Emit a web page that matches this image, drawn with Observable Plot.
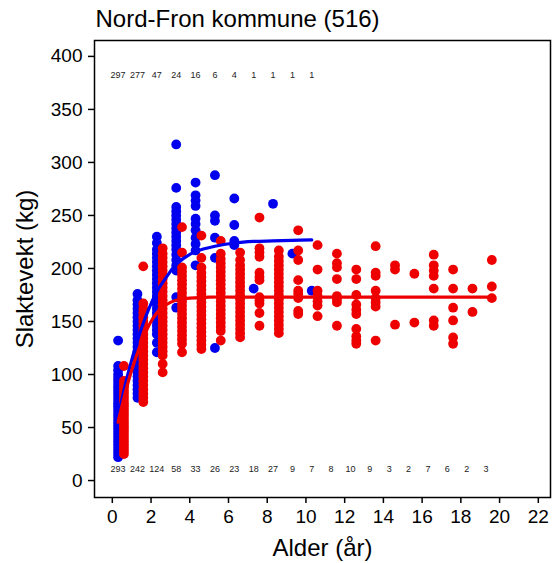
<!DOCTYPE html>
<html>
<head>
<meta charset="utf-8">
<script src="https://cdn.jsdelivr.net/npm/d3@7"></script>
<script src="https://cdn.jsdelivr.net/npm/@observablehq/plot@0.6"></script>
<style>
  html, body { margin: 0; padding: 0; background: #fff; }
</style>
</head>
<body>
<div id="chart"></div>
<script>
const title = "Nord-Fron kommune (516)";
const xLabel = "Alder (år)";
const yLabel = "Slaktevekt (kg)";
const xTicks = [0, 2, 4, 6, 8, 10, 12, 14, 16, 18, 20, 22];
const yTicks = [0, 50, 100, 150, 200, 250, 300, 350, 400];

// Males (blue): column ages and weights
const maleAges = [0.3, 1.3, 2.3, 3.3, 4.3, 5.3, 6.3, 7.3, 8.3, 9.3, 10.3];
const maleWeights = [
  [22, 25, 28, 31, 34, 37, 40, 43, 46, 49, 52, 55, 58, 61, 64, 67, 70, 73, 76, 79, 82, 85, 88, 91, 94, 97, 100, 104, 108, 132],
  [78, 82, 86, 90, 94, 98, 102, 106, 110, 114, 118, 122, 126, 130, 134, 138, 142, 146, 150, 154, 158, 162, 166, 170, 176],
  [121, 130, 138, 142, 146, 150, 154, 158, 162, 166, 170, 174, 178, 182, 186, 190, 194, 198, 202, 206, 210, 214, 218, 224, 230],
  [163, 173, 198, 203, 208, 213, 218, 222, 226, 230, 234, 238, 242, 246, 250, 254, 258, 276, 317],
  [203, 217, 223, 229, 236, 242, 247, 259, 264, 269, 281],
  [125, 210, 229, 245, 250, 288],
  [222, 226, 241, 266],
  [181],
  [261],
  [214],
  [179]
];
const maleCounts = [297, 277, 47, 24, 16, 6, 4, 1, 1, 1, 1];

// Females (red)
const femaleAges = [0.6, 1.6, 2.6, 3.6, 4.6, 5.6, 6.6, 7.6, 8.6, 9.6, 10.6, 11.6, 12.6, 13.6, 14.6, 15.6, 16.6, 17.6, 18.6, 19.6];
const femaleWeights = [
  [25, 28, 31, 34, 37, 40, 43, 46, 49, 52, 55, 58, 61, 64, 67, 70, 73, 76, 79, 82, 85, 88, 91, 94, 108],
  [74, 78, 82, 86, 90, 94, 98, 102, 106, 110, 114, 118, 122, 126, 130, 134, 138, 142, 146, 150, 154, 158, 162, 167, 202],
  [102, 110, 118, 122, 126, 130, 134, 138, 142, 146, 150, 154, 158, 162, 166, 170, 174, 178, 182, 186, 190, 194, 198, 202, 206, 210, 214, 219],
  [121, 129, 133, 137, 141, 145, 149, 153, 157, 161, 165, 169, 173, 177, 181, 185, 189, 193, 197, 201, 215, 239],
  [124, 128, 132, 136, 140, 144, 148, 152, 156, 160, 164, 168, 172, 176, 180, 184, 188, 192, 196, 201, 210, 231],
  [132, 141, 145, 149, 153, 157, 161, 165, 169, 173, 177, 181, 185, 189, 193, 197, 201, 205, 209, 214, 226],
  [135, 139, 143, 147, 151, 155, 159, 163, 167, 171, 175, 179, 183, 187, 191, 195, 199, 203, 208, 215],
  [146, 158, 167, 170, 173, 189, 192, 196, 211, 215, 219, 248],
  [139, 143, 147, 151, 155, 159, 163, 167, 171, 175, 179, 183, 187, 191, 195, 199, 203, 207, 211, 217],
  [157, 160, 172, 176, 179, 189, 208, 217, 236],
  [155, 165, 169, 174, 179, 199, 222],
  [146, 168, 171, 174, 190, 201, 205, 214],
  [129, 132, 136, 143, 157, 161, 166, 175, 190, 199],
  [132, 164, 168, 172, 179, 193, 196, 221],
  [147, 199, 203],
  [149, 195],
  [146, 151, 181, 193, 198, 203, 213],
  [129, 135, 151, 163, 181, 199],
  [159, 181],
  [172, 183, 208]
];
const femaleCounts = [293, 242, 124, 58, 33, 26, 23, 18, 27, 9, 7, 8, 10, 9, 3, 2, 7, 6, 2, 3];

// Fitted growth curves
const maleCurveAge = [0.3, 0.8, 1.3, 1.8, 2.3, 2.8, 3.3, 3.8, 4.3, 5.3, 6.3, 7.3, 8.3, 9.3, 10.3];
const maleCurveW = [60, 100, 132, 158, 178, 192, 204, 211, 216, 221, 224, 225.5, 226, 226.5, 227];
const femaleCurveAge = [0.3, 0.6, 1.0, 1.5, 2.0, 2.5, 3.0, 3.5, 4.0, 5.0, 7.0, 10, 15, 19.7];
const femaleCurveW = [55, 78, 104, 130, 150, 162, 168, 171, 172, 173, 173, 173, 173, 173];

const countYTop = 382;
const countYBottom = 11;

const malePts = maleAges.flatMap((a, i) => maleWeights[i].map(w => ({age: a, w})));
const femalePts = femaleAges.flatMap((a, i) => femaleWeights[i].map(w => ({age: a, w})));
const maleCurve = maleCurveAge.map((a, i) => ({age: a, w: maleCurveW[i]}));
const femaleCurve = femaleCurveAge.map((a, i) => ({age: a, w: femaleCurveW[i]}));
const topLabels = maleCounts.map((c, i) => ({age: i + 0.3, n: c}));
const bottomLabels = femaleCounts.map((c, i) => ({age: i + 0.3, n: c}));

const blue = "#0000ee";
const red = "#ee0000";

const chart = Plot.plot({
  width: 557,
  height: 563,
  marginLeft: 94,
  marginRight: 7,
  marginTop: 40,
  marginBottom: 66,
  style: {fontFamily: "'Liberation Sans', Arial, sans-serif", fontSize: "19px", color: "black", background: "white"},
  x: {domain: [-0.92, 22.63]},
  y: {domain: [-16, 415]},
  marks: [
    Plot.dot(malePts, {x: "age", y: "w", r: 4.9, fill: blue, stroke: null}),
    Plot.dot(femalePts, {x: "age", y: "w", r: 4.9, fill: red, stroke: null}),
    Plot.line(maleCurve, {x: "age", y: "w", stroke: blue, strokeWidth: 3.2, curve: "catmull-rom"}),
    Plot.line(femaleCurve, {x: "age", y: "w", stroke: red, strokeWidth: 3.2, curve: "catmull-rom"}),
    Plot.text(topLabels, {x: "age", y: () => countYTop, text: "n", fontSize: 9, fill: "#222"}),
    Plot.text(bottomLabels, {x: "age", y: () => countYBottom, text: "n", fontSize: 9, fill: "#222"}),
    Plot.frame({stroke: "black", strokeWidth: 1.5}),
    Plot.axisX({ticks: xTicks, tickSize: 6, tickPadding: 6, label: null, strokeWidth: 1.5}),
    Plot.axisY({ticks: yTicks, tickSize: 6, tickPadding: 6, label: null, strokeWidth: 1.5}),
    Plot.text([title], {frameAnchor: "top-left", textAnchor: "start", lineAnchor: "middle", dy: -21, dx: 1, fontSize: 24}),
    Plot.text([yLabel], {frameAnchor: "left", textAnchor: "middle", lineAnchor: "middle", rotate: -90, dx: -69, fontSize: 24}),
    Plot.text([xLabel], {frameAnchor: "bottom", textAnchor: "middle", lineAnchor: "middle", dy: 51, fontSize: 24})
  ]
});
document.getElementById("chart").appendChild(chart);
</script>
</body>
</html>
